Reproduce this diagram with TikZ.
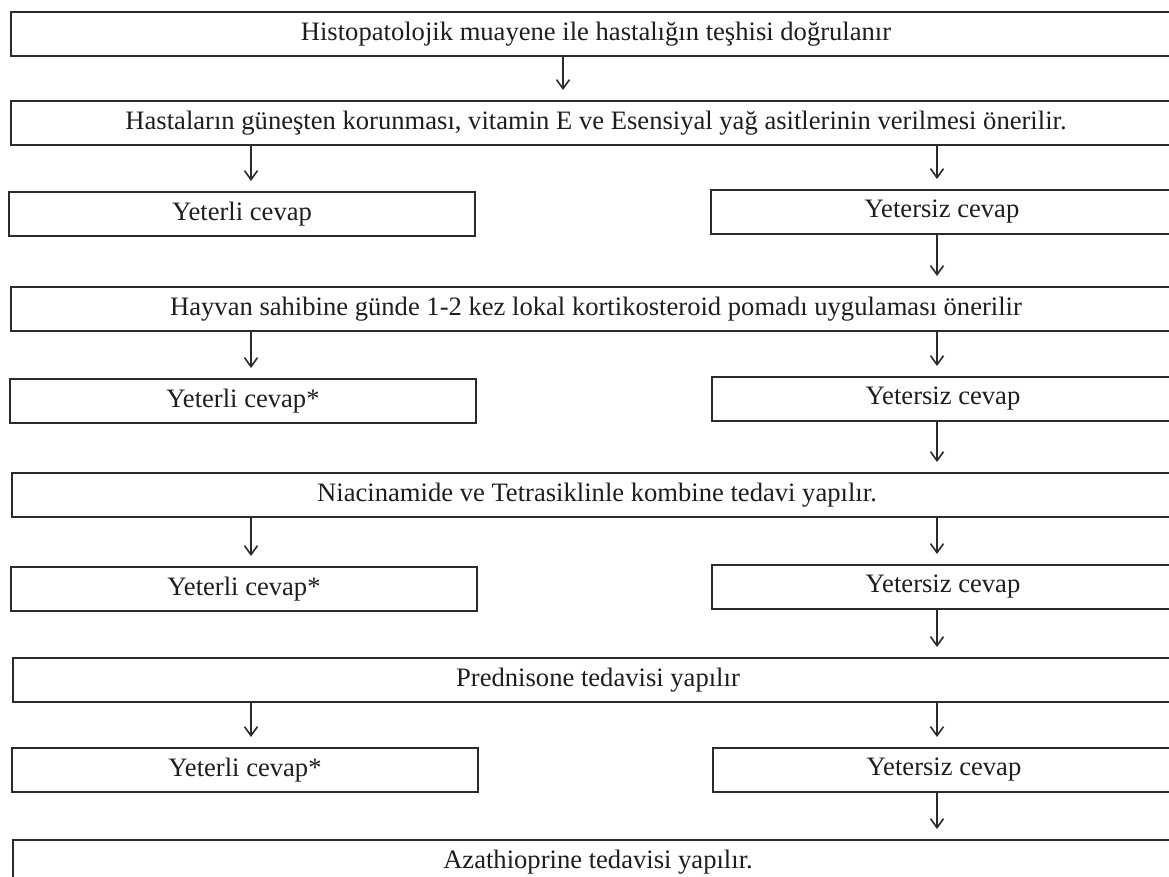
\documentclass[tikz,border=0pt]{standalone}
\usepackage{fontspec}
\setmainfont{Liberation Serif}
\usetikzlibrary{arrows.meta}
\definecolor{boxgray}{HTML}{2B2B2B}
\definecolor{textgray}{HTML}{1E1E1E}

\begin{document}
\begin{tikzpicture}
    [x = 1pt, y = -1pt,
     box/.style = {draw = boxgray, line width = 2.8pt, rectangle, inner sep = 0pt, outer sep = 0pt,
                   anchor = north west, minimum height = 44pt, text = textgray,
                   font = \fontsize{26.6}{30}\selectfont},
     wide/.style = {box, minimum width = 1170pt},
     lbox/.style = {box, minimum width = 466pt},
     rbox/.style = {box, minimum width = 462pt},
     arr/.style = {draw = boxgray, line width = 1.6pt, shorten > = 11pt,
                   -{Straight Barb[length = 9pt, width = 13pt]}}]
    \useasboundingbox (0,0) rectangle (1169,876);
    \fill[white] (0,0) rectangle (1169,876);
    \clip (0,0) rectangle (1169,876);

    \coordinate (mx) at (563,0);
    \coordinate (lx) at (251,0);
    \coordinate (rx) at (937,0);

    \node[wide] (b1) at (11,12) {Histopatolojik muayene ile hastalığın teşhisi doğrulanır};
    \node[wide] (b2) at (11,101) {Hastaların güneşten korunması, vitamin E ve Esensiyal yağ asitlerinin verilmesi önerilir.};
    \node[lbox] (yl1) at (9,192) {Yeterli cevap};
    \node[rbox] (yr1) at (711,190) {Yetersiz cevap};
    \node[wide] (b3) at (11,287) {Hayvan sahibine günde 1-2 kez lokal kortikosteroid pomadı uygulaması önerilir};
    \node[lbox] (yl2) at (10,379) {Yeterli cevap*};
    \node[rbox] (yr2) at (712,377) {Yetersiz cevap};
    \node[wide] (b4) at (12,473) {Niacinamide ve Tetrasiklinle kombine tedavi yapılır.};
    \node[lbox] (yl3) at (11,567) {Yeterli cevap*};
    \node[rbox] (yr3) at (712,565) {Yetersiz cevap};
    \node[wide] (b5) at (13,658) {Prednisone tedavisi yapılır};
    \node[lbox] (yl4) at (12,748) {Yeterli cevap*};
    \node[rbox] (yr4) at (713,748) {Yetersiz cevap};
    \node[wide] (b6) at (13,840) {Azathioprine tedavisi yapılır.};

    \foreach \from/\to/\col in {b1/b2/mx, b2/yl1/lx, b2/yr1/rx, yr1/b3/rx,
                                b3/yl2/lx, b3/yr2/rx, yr2/b4/rx,
                                b4/yl3/lx, b4/yr3/rx, yr3/b5/rx,
                                b5/yl4/lx, b5/yr4/rx, yr4/b6/rx}
      \draw[arr] (\from.south -| \col) -- (\to.north -| \col);
\end{tikzpicture}
\end{document}
